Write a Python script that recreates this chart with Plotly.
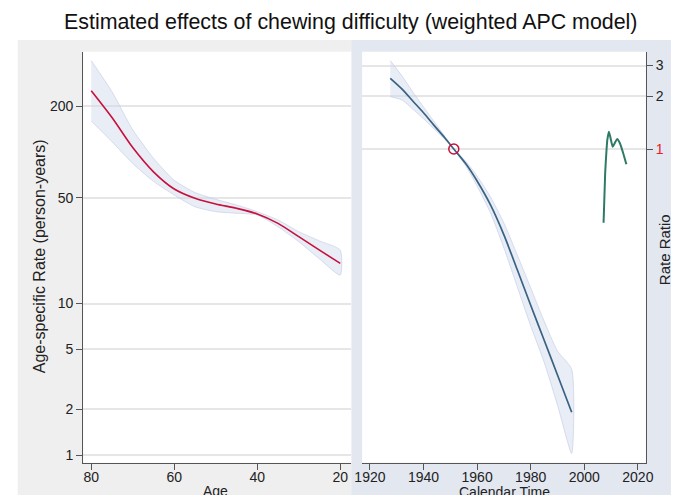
import plotly.graph_objects as go

# ---------------- data ----------------
title_text = "Estimated effects of chewing difficulty (weighted APC model)"

age = [80, 75, 70, 65, 60, 55, 50, 45, 40, 35, 30, 25, 20]
age_rate = [254, 169, 107, 74, 57, 49.5, 45.4, 42.5, 39, 33.8, 27.6, 22.5, 18.4]
age_upper = [401, 250, 140, 91, 65, 54, 48.7, 44.7, 40.4, 35.6, 29.8, 25.9, 22.5]
age_lower = [160, 117, 84, 64, 52, 43.5, 40.4, 39.4, 38.4, 32.1, 25.6, 19.7, 15.4]

period_year = [1927.6, 1932, 1936, 1940, 1944, 1948, 1951.3, 1956, 1960, 1965,
               1970, 1975, 1980, 1985, 1990, 1995.3]
period_rr = [2.535, 2.20, 1.88, 1.61, 1.36, 1.156, 1.0, 0.815, 0.656, 0.479,
             0.323, 0.204, 0.128, 0.081, 0.0511, 0.0313]
period_upper = [3.20, 2.61, 2.12, 1.74, 1.43, 1.18, 1.0, 0.843, 0.701, 0.532,
                0.378, 0.248, 0.161, 0.104, 0.0701, 0.0551]
period_lower = [1.99, 1.905, 1.69, 1.49, 1.30, 1.133, 1.0, 0.789, 0.615, 0.431,
                0.272, 0.163, 0.0975, 0.0607, 0.0344, 0.0182]

ref_year = [1951.3]
ref_rr = [1.0]

late_year = [2007.2, 2007.8, 2008.3, 2008.6, 2009.2, 2009.8, 2010.6, 2011.4,
             2012.3, 2013.3, 2014.5, 2015.7]
late_rr = [0.379, 0.729, 0.987, 1.126, 1.256, 1.156, 1.031, 1.082,
           1.141, 1.078, 0.949, 0.818]

age_ticks = [80, 60, 40, 20]
rate_ticks = [1, 2, 5, 10, 50, 200]
year_ticks = [1920, 1940, 1960, 1980, 2000, 2020]
rr_ticks = [1, 2, 3]
rr_ticktext = ['<span style="color:#ee1c25">1</span>', '2', '3']

# ---------------- styling / layout constants ----------------
W, H = 679, 495
FONT = "Liberation Sans, Arial, sans-serif"
band_fill = "rgba(205,214,236,0.45)"
band_line = "rgba(190,200,228,0.7)"
red = "#c8103c"
blue = "#3a6282"
green = "#2e7a66"
axis_col = "#555555"
grid_col = "#e6e6e6"


def px(x):
    return x / W


def py(y):
    return 1 - y / H


fig = go.Figure()

# Age panel band + line
fig.add_trace(go.Scatter(
    x=age + age[::-1], y=age_upper + age_lower[::-1],
    fill="toself", fillcolor=band_fill, mode="lines",
    line=dict(color=band_line, width=0.8, shape="spline", smoothing=0.6),
    xaxis="x", yaxis="y", hoverinfo="skip", showlegend=False))
fig.add_trace(go.Scatter(
    x=age, y=age_rate, mode="lines",
    line=dict(color=red, width=1.6, shape="spline", smoothing=0.8),
    xaxis="x", yaxis="y", showlegend=False))

# Period panel band + line
fig.add_trace(go.Scatter(
    x=period_year + period_year[::-1], y=period_upper + period_lower[::-1],
    fill="toself", fillcolor=band_fill, mode="lines",
    line=dict(color=band_line, width=0.8, shape="spline", smoothing=0.6),
    xaxis="x2", yaxis="y2", hoverinfo="skip", showlegend=False))
fig.add_trace(go.Scatter(
    x=period_year, y=period_rr, mode="lines",
    line=dict(color=blue, width=1.7, shape="spline", smoothing=0.8),
    xaxis="x2", yaxis="y2", showlegend=False))
fig.add_trace(go.Scatter(
    x=late_year, y=late_rr, mode="lines",
    line=dict(color=green, width=2, shape="spline", smoothing=0.5),
    xaxis="x2", yaxis="y2", showlegend=False))
fig.add_trace(go.Scatter(
    x=ref_year, y=ref_rr, mode="markers",
    marker=dict(symbol="circle-open", size=10, color=red, line=dict(width=1.5, color=red)),
    xaxis="x2", yaxis="y2", showlegend=False))

x1_dom = [px(77), px(351.5)]
x2_dom = [px(362.7), px(653.3)]
y_dom = [py(462.7), py(51.7)]

tickfont = dict(family=FONT, size=14, color="#222222")
common_axis = dict(showline=True, linecolor=axis_col, linewidth=1.3,
                   ticks="outside", ticklen=6, tickcolor=axis_col, tickwidth=1,
                   tickfont=tickfont, zeroline=False, mirror=False)

fig.update_layout(
    width=W, height=H,
    margin=dict(l=0, r=0, t=0, b=0),
    paper_bgcolor="white", plot_bgcolor="white",
    font=dict(family=FONT, color="#222222"),
    xaxis=dict(domain=x1_dom, anchor="y", range=[81.94, 17.36],
               tickvals=age_ticks, showgrid=False, ticklabelstandoff=-5, **common_axis),
    yaxis=dict(domain=y_dom, anchor="x", type="log", range=[-0.0508, 2.662],
               tickvals=rate_ticks, showgrid=True, gridcolor=grid_col, gridwidth=1.5,
               **common_axis),
    xaxis2=dict(domain=x2_dom, anchor="y2", range=[1917.1, 2023.0],
                tickvals=year_ticks, showgrid=False, ticklabelstandoff=-5, **common_axis),
    yaxis2=dict(domain=y_dom, anchor="x2", side="right", type="log",
                range=[-1.7926, 0.556], tickvals=rr_ticks, ticktext=rr_ticktext,
                showgrid=True, gridcolor=grid_col, gridwidth=1.5, **common_axis),
    shapes=[
        dict(type="rect", xref="paper", yref="paper", x0=px(10), x1=px(351.5),
             y0=0, y1=py(40), fillcolor="#efefef", line=dict(width=0), layer="below"),
        dict(type="rect", xref="paper", yref="paper", x0=px(351.5), x1=1,
             y0=0, y1=py(40), fillcolor="#e3e7f0", line=dict(width=0), layer="below"),
        dict(type="rect", xref="paper", yref="paper", x0=x1_dom[0], x1=x1_dom[1],
             y0=y_dom[0], y1=y_dom[1], fillcolor="white", line=dict(width=0), layer="below"),
        dict(type="rect", xref="paper", yref="paper", x0=x2_dom[0], x1=x2_dom[1],
             y0=y_dom[0], y1=y_dom[1], fillcolor="white", line=dict(width=0), layer="below"),
    ],
    annotations=[
        dict(text=title_text, xref="paper", yref="paper", x=px(351), y=py(22),
             xanchor="center", yanchor="middle", showarrow=False,
             font=dict(family=FONT, size=21.4, color="#111111")),
        dict(text="Age-specific Rate (person-years)", xref="paper", yref="paper",
             x=px(32), y=py(256), textangle=-90, xanchor="center", yanchor="middle",
             showarrow=False, font=dict(family=FONT, size=16, color="#222222")),
        dict(text="Age", xref="paper", yref="paper", x=px(213), y=py(491),
             xanchor="center", yanchor="middle", showarrow=False,
             font=dict(family=FONT, size=14, color="#222222")),
        dict(text="Calendar Time", xref="paper", yref="paper", x=px(508), y=py(492),
             xanchor="center", yanchor="middle", showarrow=False,
             font=dict(family=FONT, size=14, color="#222222")),
        dict(text="Rate Ratio", xref="paper", yref="paper", x=px(672), y=py(250),
             textangle=-90, xanchor="center", yanchor="middle", showarrow=False,
             font=dict(family=FONT, size=15, color="#222222")),
    ],
)

fig.write_html(
    "out.html",
    config={"displayModeBar": False},
    post_script="document.body.style.margin='0';document.body.style.padding='0';"
                "document.body.style.overflow='hidden';",
)
